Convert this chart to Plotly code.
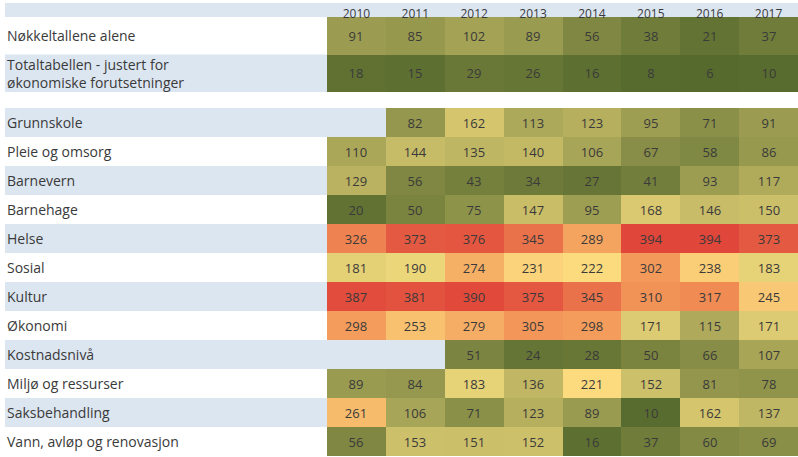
import plotly.graph_objects as go

years = [2010, 2011, 2012, 2013, 2014, 2015, 2016, 2017]
year_labels = [str(y) for y in years]

top_rows = ["Nøkkeltallene alene", "Totaltabellen - justert for<br>økonomiske forutsetninger"]
top_values = [
    [91, 85, 102, 89, 56, 38, 21, 37],
    [18, 15, 29, 26, 16, 8, 6, 10],
]

rows = ["Grunnskole", "Pleie og omsorg", "Barnevern", "Barnehage", "Helse", "Sosial",
        "Kultur", "Økonomi", "Kostnadsnivå", "Miljø og ressurser", "Saksbehandling",
        "Vann, avløp og renovasjon"]
grunnskole = [None, 82, 162, 113, 123, 95, 71, 91]
pleie = [110, 144, 135, 140, 106, 67, 58, 86]
barnevern = [129, 56, 43, 34, 27, 41, 93, 117]
barnehage = [20, 50, 75, 147, 95, 168, 146, 150]
helse = [326, 373, 376, 345, 289, 394, 394, 373]
sosial = [181, 190, 274, 231, 222, 302, 238, 183]
kultur = [387, 381, 390, 375, 345, 310, 317, 245]
okonomi = [298, 253, 279, 305, 298, 171, 115, 171]
kostnad = [None, None, 51, 24, 28, 50, 66, 107]
miljo = [89, 84, 183, 136, 221, 152, 81, 78]
saks = [261, 106, 71, 123, 89, 10, 162, 137]
vann = [56, 153, 151, 152, 16, 37, 60, 69]
values = [grunnskole, pleie, barnevern, barnehage, helse, sosial, kultur, okonomi,
          kostnad, miljo, saks, vann]

W, H = 798, 457
ZMIN, ZMAX = 6, 394
colorscale = [
    [0.0, "#566a2d"],
    [0.53, "#fde383"],
    [0.76, "#f39a5a"],
    [1.0, "#e0463a"],
]
STRIPE = "#dce6f1"
TEXT = "#3a3a3a"
FONT = "Open Sans"


def txt(m):
    return [["" if v is None else str(v) for v in r] for r in m]


def px_y(p):
    return 1 - p / H


fig = go.Figure()
common = dict(
    colorscale=colorscale, zmin=ZMIN, zmax=ZMAX, showscale=False,
    texttemplate="%{text}", textfont=dict(family=FONT, size=13, color=TEXT),
    hoverinfo="skip", xgap=0, ygap=0,
)
fig.add_trace(go.Heatmap(x=years, y=top_rows, z=top_values, text=txt(top_values),
                         xaxis="x", yaxis="y", **common))
fig.add_trace(go.Heatmap(x=years, y=rows, z=values, text=txt(values),
                         xaxis="x", yaxis="y2", **common))

shapes = []
x0s = 5 / W
shapes.append(dict(type="rect", xref="paper", yref="paper", x0=x0s, x1=1,
                   y0=px_y(17), y1=px_y(3), fillcolor=STRIPE, line_width=0, layer="below"))
for i, r in enumerate(top_rows):
    if i % 2 == 1:
        shapes.append(dict(type="rect", xref="paper", yref="y", x0=x0s, x1=1,
                           y0=i - 0.5, y1=i + 0.5, fillcolor=STRIPE, line_width=0, layer="below"))
for i, r in enumerate(rows):
    if i % 2 == 0:
        shapes.append(dict(type="rect", xref="paper", yref="y2", x0=x0s, x1=1,
                           y0=i - 0.5, y1=i + 0.5, fillcolor=STRIPE, line_width=0, layer="below"))

annotations = []
for r in top_rows:
    annotations.append(dict(x=5 / W, xref="paper", y=r, yref="y", text=r, showarrow=False,
                            xanchor="left", align="left",
                            font=dict(family=FONT, size=14, color=TEXT)))
for r in rows:
    annotations.append(dict(x=5 / W, xref="paper", y=r, yref="y2", text=r, showarrow=False,
                            xanchor="left", align="left",
                            font=dict(family=FONT, size=14, color=TEXT)))

fig.update_layout(
    width=W, height=H, margin=dict(l=0, r=0, t=0, b=0),
    paper_bgcolor="white", plot_bgcolor="rgba(0,0,0,0)",
    shapes=shapes, annotations=annotations,
    xaxis=dict(domain=[327 / W, 1], range=[2009.5, 2017.5], side="top", anchor="free",
               position=px_y(20),
               tickvals=years, ticktext=year_labels, showgrid=False, zeroline=False,
               showline=False, ticks="", tickfont=dict(family=FONT, size=12, color=TEXT),
               fixedrange=True),
    yaxis=dict(domain=[px_y(92), px_y(17)], type="category", categoryarray=top_rows,
               range=[len(top_rows) - 0.5, -0.5], showticklabels=False, showgrid=False,
               zeroline=False, fixedrange=True),
    yaxis2=dict(domain=[px_y(456), px_y(108)], type="category", categoryarray=rows,
                range=[len(rows) - 0.5, -0.5], showticklabels=False, showgrid=False,
                zeroline=False, anchor="x", fixedrange=True),
)

fig.write_html(
    "out.html",
    config={"displayModeBar": False},
    post_script="document.body.style.margin='0px';document.body.style.overflow='hidden';",
)
